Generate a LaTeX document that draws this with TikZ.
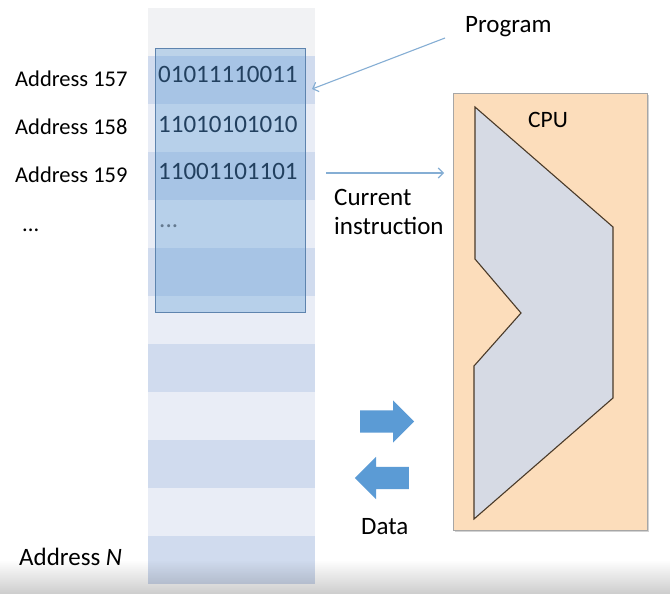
\documentclass[tikz,border=0pt]{standalone}
\usepackage{fontspec}
\setmainfont{Carlito}
\usetikzlibrary{shapes.arrows,shadows,fadings,arrows.meta}

\definecolor{memtop}{HTML}{F1F2F4}
\definecolor{memlight}{HTML}{E9EDF6}
\definecolor{memdark}{HTML}{D0DBEE}
\definecolor{progblue}{HTML}{5B9BD5}
\definecolor{progedge}{HTML}{5E84AE}
\definecolor{wordblue}{HTML}{22405F}
\definecolor{pointerblue}{HTML}{85AED4}
\definecolor{cpupeach}{HTML}{FCDDBB}
\definecolor{alugray}{HTML}{D6DAE4}
\definecolor{aluedge}{HTML}{4A3A28}
\definecolor{datablue}{HTML}{5B9BD5}

\begin{document}
\begin{tikzpicture}[x=1pt,y=-1pt,
  memrow/.style={minimum width=167pt,minimum height=48pt,inner sep=0pt},
  addr/.style={anchor=base west,inner sep=0pt,font=\fontsize{22.5}{27}\selectfont},
  word/.style={anchor=base west,inner sep=0pt,text=wordblue,font=\fontsize{25}{30}\selectfont},
  txt/.style={anchor=base west,inner sep=0pt,font=\fontsize{25}{30}\selectfont},
  pointer/.style={draw=pointerblue,line width=1.1pt,-{Straight Barb[length=5pt,width=10pt]}},
  dataarrow/.style={single arrow,fill=datablue,inner xsep=0pt,inner ysep=11pt,
    minimum height=54pt,single arrow head extend=10pt}]
\fill[white] (0,0) rectangle (670,594);
\useasboundingbox (0,0) rectangle (670,594);

% Memory
\foreach \i/\c in {0/memtop,1/memdark,2/memlight,3/memdark,4/memlight,5/memdark,
  6/memlight,7/memdark,8/memlight,9/memdark,10/memlight,11/memdark}
  \node[memrow,fill=\c] (r\i) at (231.5,{32+48*\i}) {};
\node[minimum width=150pt,minimum height=264pt,inner sep=0pt,fill=progblue,
  fill opacity=0.35,draw=progedge,line width=0.8pt] (prog) at (230,180) {};

\node[word] (w157) at (158,83) {01011110011};
\node[word] (w158) at (158,132) {11010101010};
\node[word] (w159) at (158,179) {11001101101};
\node[word,text=wordblue!70] (wdots) at (159,227) {...};

\node[addr] (a157) at (15,87) {Address 157};
\node[addr] (a158) at (15,134) {Address 158};
\node[addr] (a159) at (15,182) {Address 159};
\node[addr] (adots) at (22,231) {...};
\node[addr,font=\fontsize{25}{30}\selectfont] (aN) at (19,565) {Address \textit{N}};

% Program and current instruction
\node[txt] (program) at (465,33) {Program};
\coordinate (progtail) at (445,38);
\coordinate (progtip) at (312,89);
\draw[pointer] (progtail) -- (progtip);

\coordinate (curfrom) at (326,173);
\coordinate (curto) at (444,173);
\draw[pointer] (curfrom) -- (curto);
\node[txt] (cur1) at (334,205) {Current};
\node[txt] (cur2) at (334,234) {instruction};

% CPU
\node[minimum width=194pt,minimum height=437pt,inner sep=0pt,fill=cpupeach,
  draw=black!35,line width=0.6pt,
  drop shadow={opacity=0.35,shadow xshift=2pt,shadow yshift=-2pt}] (cpu) at (550,311.5) {};
\draw[fill=alugray,draw=aluedge,line width=1.1pt,line join=miter]
  (475,107) -- (613,227) -- (613,398) -- (474,519) -- (474,366) -- (521,313)
  -- (475,259) -- cycle;
\node[txt,font=\fontsize{23.5}{28}\selectfont] (cpulabel) at (528,128) {CPU};

% Data
\node[dataarrow,anchor=tail] (tocpu) at (360,421.5) {};
\node[dataarrow,shape border rotate=180,anchor=tail] (frommem) at (409,478) {};
\node[txt] (data) at (361,534) {Data};

\fill[black,opacity=0.2,path fading=north] (0,560) rectangle (670,594);
\end{tikzpicture}
\end{document}
